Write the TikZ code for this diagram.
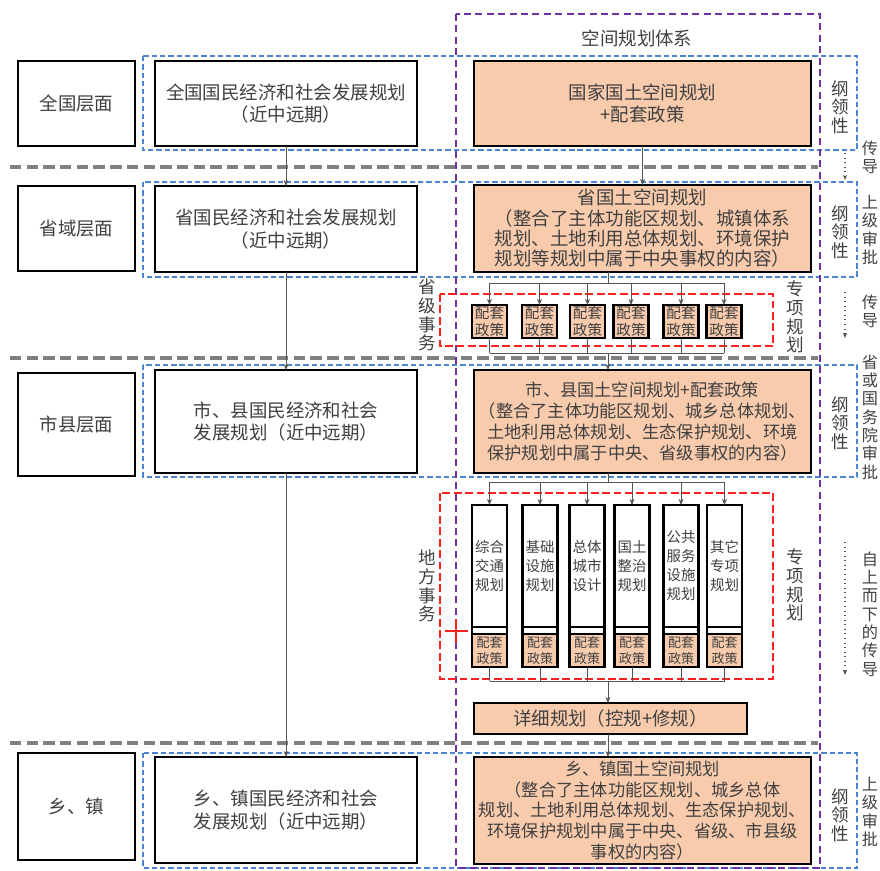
\documentclass[tikz,border=0pt]{standalone}
\usepackage{fontspec}
\setmainfont{Noto Sans CJK SC}
\usetikzlibrary{arrows.meta,positioning}

\definecolor{peach}{HTML}{F8CBAD}
\definecolor{txtgray}{HTML}{404040}
\definecolor{lineblue}{HTML}{4A86D0}
\definecolor{linepurple}{HTML}{7030A0}
\definecolor{linered}{HTML}{FF2020}
\definecolor{linegray}{HTML}{808080}
\definecolor{conngray}{HTML}{555555}

\begin{document}
\begin{tikzpicture}[
    x=0.02cm, y=-0.02cm,
    every node/.append style={text=txtgray},
    box/.style={rectangle, draw=black, line width=1.3pt, fill=white, align=center,
                inner sep=0pt, outer sep=0pt, font=\fontsize{10.5}{13}\selectfont},
    level box/.style={box, minimum width=2.34cm},
    eco box/.style={box, minimum width=5.24cm},
    plan box/.style={box, fill=peach, minimum width=6.74cm, font=\fontsize{10.5}{11.6}\selectfont},
    pol box/.style={box, fill=peach, minimum width=0.7cm, minimum height=0.66cm,
                    font=\fontsize{8.3}{9.6}\selectfont},
    tall box/.style={box, minimum width=0.7cm, minimum height=2.44cm, font=\fontsize{8.2}{10.8}\selectfont},
    strip box/.style={box, minimum width=0.7cm, minimum height=0.14cm},
    sub box/.style={box, fill=peach, minimum width=0.7cm, minimum height=0.66cm,
                    font=\fontsize{7.4}{9.4}\selectfont},
    side text/.style={align=center, inner sep=0pt, font=\fontsize{10}{10.6}\selectfont},
    edge text/.style={side text, font=\fontsize{9.2}{10.4}\selectfont},
    blue box/.style={draw=lineblue, line width=0.9pt, dash pattern=on 3pt off 1.7pt},
    purple box/.style={draw=linepurple, line width=1.4pt, dash pattern=on 4pt off 2.5pt},
    red box/.style={draw=linered, line width=1.2pt, dash pattern=on 4.5pt off 2pt},
    sep line/.style={draw=linegray, line width=2.3pt, dash pattern=on 6.5pt off 3pt},
    conn/.style={draw=conngray, line width=0.5pt},
    arrow/.style={conn, -{Stealth[length=3.5pt, width=2.8pt]}},
    pass arrow/.style={draw=conngray, line width=0.6pt, dotted, -{Stealth[length=3pt, width=2.4pt]}}
]

\useasboundingbox (0,0) rectangle (880,870);

% frames
\draw[blue box] (143,56) rectangle (857,150);
\draw[blue box] (143,182) rectangle (857,277);
\draw[blue box] (143,365) rectangle (857,477);
\draw[blue box] (143,753) rectangle (857,868);
\draw[purple box] (456,14) rectangle (820,868);
\draw[red box] (440,294) rectangle (773,346);
\draw[red box] (440,493) rectangle (773,679);

% level separators
\draw[sep line] (10,167) -- (818,167);
\draw[sep line] (10,358) -- (818,358);
\draw[sep line] (10,743) -- (818,743);

\node[font=\fontsize{10.5}{13}\selectfont] (sysTitle) at (637,38) {空间规划体系};

% national level
\node[level box, minimum height=1.7cm] (natLvl) at (76.5,103.5) {全国层面};
\node[eco box, minimum height=1.7cm] (natEco) at (286,103.5) {全国国民经济和社会发展规划\\（近中远期）};
\node[plan box, minimum height=1.7cm, font=\fontsize{10.5}{13}\selectfont] (natPlan) at (642.5,103.5) {国家国土空间规划\\+配套政策};

% province level
\node[level box, minimum height=1.7cm] (provLvl) at (76.5,228.5) {省域层面};
\node[eco box, minimum height=1.72cm] (provEco) at (286,229) {省国民经济和社会发展规划\\（近中远期）};
\node[plan box, minimum height=1.74cm] (provPlan) at (642.5,228.5) {省国土空间规划\\（整合了主体功能区规划、城镇体系\\规划、土地利用总体规划、环境保护\\规划等规划中属于中央事权的内容）};

% province policies
\foreach \i/\xx in {1/489.5,2/539.5,3/587.5,4/631,5/681,6/724}{
  \node[pol box] (pol\i) at (\xx,321.5) {配套\\政策};
}

% city and county level
\node[level box, minimum height=2.06cm] (cityLvl) at (76.5,424.5) {市县层面};
\node[eco box, minimum height=2.06cm] (cityEco) at (286,421.5) {市、县国民经济和社会\\发展规划（近中远期）};
\node[plan box, minimum height=2.06cm, font=\fontsize{9.8}{12}\selectfont] (cityPlan) at (642.5,421.5) {市、县国土空间规划+配套政策\\（整合了主体功能区规划、城乡总体规划、\\土地利用总体规划、生态保护规划、环境\\保护规划中属于中央、省级事权的内容）};

% special plans
\foreach \i/\xx/\txt in {1/489.5/{综合\\交通\\规划}, 2/540/{基础\\设施\\规划}, 3/587/{总体\\城市\\设计},
                         4/632/{国土\\整治\\规划}, 5/681/{公共\\服务\\设施\\规划}, 6/724.5/{其它\\专项\\规划}}{
  \node[tall box] (sp\i) at (\xx,566) {\txt};
  \node[strip box, below=0pt of sp\i] (strip\i) {};
  \node[sub box, below=0pt of strip\i] (sub\i) {配套\\政策};
}

\node[plan box, minimum width=5.46cm, minimum height=0.62cm, font=\fontsize{10.5}{13}\selectfont] (detail) at (610.5,718.5) {详细规划（控规+修规）};

% township level
\node[level box, minimum height=2.14cm] (townLvl) at (76.5,806.5) {乡、镇};
\node[eco box, minimum height=2.12cm] (townEco) at (286,810) {乡、镇国民经济和社会\\发展规划（近中远期）};
\node[plan box, minimum height=2.14cm, font=\fontsize{9.8}{11.8}\selectfont] (townPlan) at (642.5,810.5) {乡、镇国土空间规划\\（整合了主体功能区规划、城乡总体\\规划、土地利用总体规划、生态保护规划、\\环境保护规划中属于中央、省级、市县级\\事权的内容）};

% side labels
\node[side text] (gl1) at (840,107) {纲\\领\\性};
\node[side text] (gl2) at (840,232) {纲\\领\\性};
\node[side text] (gl3) at (840,423) {纲\\领\\性};
\node[side text] (gl4) at (840,815) {纲\\领\\性};
\node[edge text] (pass1) at (870,157) {传\\导};
\node[edge text] (appr1) at (870,230) {上\\级\\审\\批};
\node[edge text] (pass2) at (870,311) {传\\导};
\node[edge text] (appr2) at (870,417) {省\\或\\国\\务\\院\\审\\批};
\node[edge text] (pass3) at (870,614) {自\\上\\而\\下\\的\\传\\导};
\node[edge text] (appr3) at (870,812) {上\\级\\审\\批};
\node[side text] (provAff) at (427,315) {省\\级\\事\\务};
\node[side text] (provSp) at (795,317) {专\\项\\规\\划};
\node[side text] (locAff) at (427,586) {地\\方\\事\\务};
\node[side text] (locSp) at (795,585) {专\\项\\规\\划};

% red mark
\draw[linered, line width=1.2pt] (445,631) -- (468,631) (456,619) -- (456,643);

% left column links
\draw[arrow] (natEco.south) -- (provEco.north);
\draw[arrow] (provEco.south) -- (cityEco.north);
\draw[arrow] (cityEco.south) -- (townEco.north);

% right column links
\draw[arrow] (natPlan.south) -- (provPlan.north);

\coordinate (provTop) at (608,283);
\coordinate (provBot) at (608,353);
\draw[conn] (provTop |- provPlan.south) -- (provTop);
\draw[conn] (pol1.north |- provTop) -- (pol6.north |- provTop);
\draw[conn] (pol1.south |- provBot) -- (pol6.south |- provBot);
\foreach \i in {1,...,6}{
  \draw[arrow] (pol\i.north |- provTop) -- (pol\i.north);
  \draw[conn] (pol\i.south) -- (pol\i.south |- provBot);
}
\draw[arrow] (provBot) -- (provBot |- cityPlan.north);

\coordinate (cityTop) at (608,482);
\coordinate (cityBot) at (608,681);
\draw[conn] (cityTop |- cityPlan.south) -- (cityTop);
\draw[conn] (sp1.north |- cityTop) -- (sp6.north |- cityTop);
\draw[conn] (sub1.south |- cityBot) -- (sub6.south |- cityBot);
\foreach \i in {1,...,6}{
  \draw[arrow] (sp\i.north |- cityTop) -- (sp\i.north);
  \draw[conn] (sub\i.south) -- (sub\i.south |- cityBot);
}
\draw[arrow] (cityBot) -- (cityBot |- detail.north);
\draw[arrow] (cityBot |- detail.south) -- (cityBot |- townPlan.north);

% transfer arrows
\coordinate (pa1) at (845,153);
\coordinate (pb1) at (845,180);
\coordinate (pa2) at (845,292);
\coordinate (pb2) at (845,338);
\coordinate (pa3) at (845,542);
\coordinate (pb3) at (845,675);
\draw[pass arrow] (pa1) -- (pb1);
\draw[pass arrow] (pa2) -- (pb2);
\draw[pass arrow] (pa3) -- (pb3);

\end{tikzpicture}
\end{document}
